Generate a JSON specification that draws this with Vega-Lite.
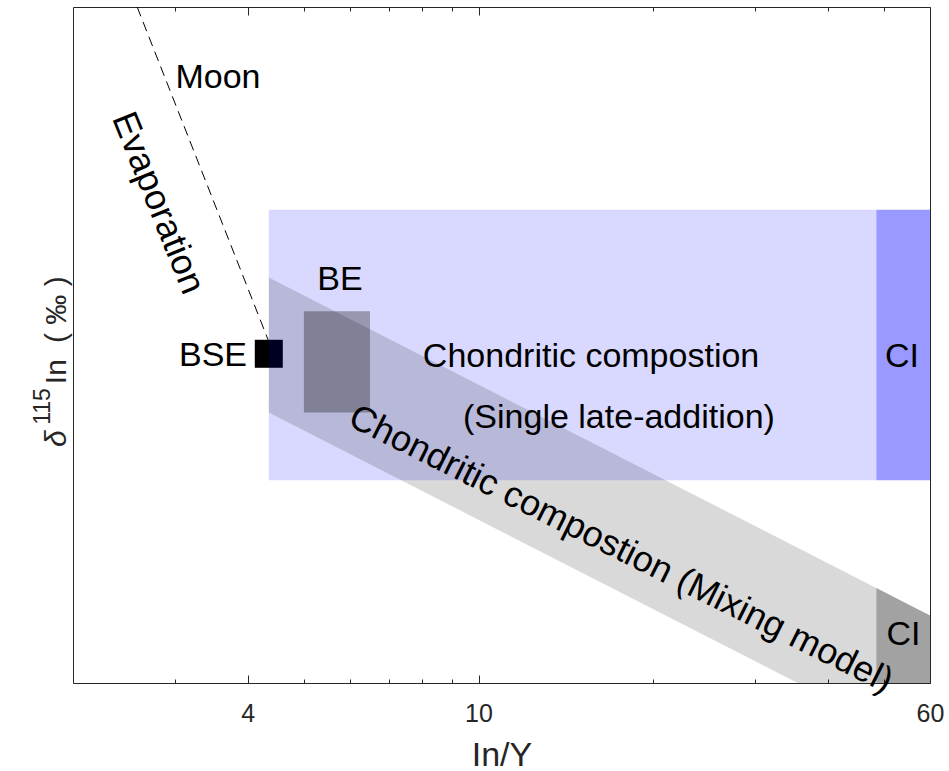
{
  "$schema": "https://vega.github.io/schema/vega-lite/v6.json",
  "width": 857,
  "height": 676,
  "autosize": "none",
  "padding": {"left": 73, "top": 7, "right": 19, "bottom": 88},
  "background": "white",
  "config": {
    "view": {"stroke": "#262626", "strokeWidth": 1},
    "font": "Liberation Sans",
    "axis": {
      "grid": false,
      "domain": false,
      "labelFont": "Liberation Sans",
      "titleFont": "Liberation Sans",
      "labelColor": "#262626",
      "titleColor": "#262626",
      "tickColor": "#262626",
      "titleFontWeight": "normal"
    }
  },
  "datasets": {
    "bse": [{"x": 4.35, "y": 48.7}],
    "evaporation": [{"x": 2.58, "y": 100}, {"x": 4.42, "y": 49}],
    "single": [{"x": 4.35, "x2": 48.5, "y": 30, "y2": 70}],
    "ciSingle": [{"x": 48.5, "x2": 60, "y": 30, "y2": 70}],
    "mixing": [{"x": 4.35, "top": 60, "bottom": 40}, {"x": 60, "top": 10, "bottom": -10}],
    "ciMixing": [{"x": 48.5, "top": 14.05, "bottom": 0}, {"x": 60, "top": 10, "bottom": 0}],
    "be": [{"x": 5, "x2": 6.5, "y": 40, "y2": 55}],
    "labels": [
      {"label": "Moon", "x": 3.556, "y": 89.5},
      {"label": "BE", "x": 5.77, "y": 59.6},
      {"label": "Chondritic compostion", "x": 15.63, "y": 48.2},
      {"label": "(Single late-addition)", "x": 17.46, "y": 39.2},
      {"label": "CI", "x": 53.7, "y": 48.2},
      {"label": "CI", "x": 54.0, "y": 7.1}
    ],
    "bseLabel": [{"label": "BSE", "x": 3.99, "y": 48.4}],
    "evapLabel": [{"label": "Evaporation", "x": 2.803, "y": 71.0}],
    "mixLabel": [{"label": "Chondritic compostion (Mixing model)", "x": 17.6, "y": 19.8}],
    "yTitleSymbol": [{"label": "δ", "x": 1.945, "y": 34.9}],
    "yTitleMass": [{"label": "115", "x": 1.826, "y": 38.2}],
    "yTitleRest": [{"label": "In", "x": 1.945, "y": 44.2}, {"label": "( ‰ )", "x": 1.945, "y": 50.3}]
  },
  "resolve": {"axis": {"x": "independent"}},
  "layer": [
    {
      "data": {"name": "bse"},
      "mark": {"type": "point", "shape": "square", "filled": true, "color": "black", "opacity": 1, "size": 784},
      "encoding": {
        "x": {
          "field": "x", "type": "quantitative",
          "scale": {"type": "log", "domain": [2, 60], "nice": false},
          "title": "In/Y",
          "axis": {
            "orient": "bottom",
            "values": [3, 4, 5, 6, 7, 8, 9, 10, 20, 30, 40, 50, 60],
            "labelExpr": "datum.value == 4 || datum.value == 10 || datum.value == 60 ? format(datum.value, 'd') : ''",
            "labelOverlap": false,
            "labelFlush": false,
            "labelBound": false,
            "labelFontSize": 25,
            "labelPadding": 26,
            "tickSize": {"condition": {"test": "datum.value == 4 || datum.value == 10 || datum.value == 60", "value": -8}, "value": -4},
            "titleFontSize": 34,
            "titleBaseline": "alphabetic",
            "titleY": 82
          }
        },
        "y": {
          "field": "y", "type": "quantitative",
          "scale": {"domain": [0, 100], "nice": false},
          "axis": null
        }
      }
    },
    {
      "data": {"name": "evaporation"},
      "mark": {"type": "line", "color": "black", "strokeWidth": 1, "strokeDash": [10, 6], "clip": true},
      "encoding": {
        "x": {
          "field": "x", "type": "quantitative",
          "scale": {"type": "log", "domain": [2, 60], "nice": false},
          "axis": {
            "orient": "top",
            "values": [3, 4, 5, 6, 7, 8, 9, 10, 20, 30, 40, 50, 60],
            "labels": false,
            "title": null,
            "tickSize": {"condition": {"test": "datum.value == 4 || datum.value == 10", "value": -8}, "value": -4}
          }
        },
        "y": {"field": "y", "type": "quantitative", "axis": null}
      }
    },
    {
      "data": {"name": "single"},
      "mark": {"type": "rect", "color": "#0000ff", "opacity": 0.15},
      "encoding": {
        "x": {"field": "x", "type": "quantitative", "axis": null},
        "x2": {"field": "x2"},
        "y": {"field": "y", "type": "quantitative", "axis": null},
        "y2": {"field": "y2"}
      }
    },
    {
      "data": {"name": "ciSingle"},
      "mark": {"type": "rect", "color": "#0000ff", "opacity": 0.4},
      "encoding": {
        "x": {"field": "x", "type": "quantitative", "axis": null},
        "x2": {"field": "x2"},
        "y": {"field": "y", "type": "quantitative", "axis": null},
        "y2": {"field": "y2"}
      }
    },
    {
      "data": {"name": "mixing"},
      "mark": {"type": "area", "color": "black", "opacity": 0.15, "clip": true},
      "encoding": {
        "x": {"field": "x", "type": "quantitative", "axis": null},
        "y": {"field": "top", "type": "quantitative", "axis": null},
        "y2": {"field": "bottom"}
      }
    },
    {
      "data": {"name": "ciMixing"},
      "mark": {"type": "area", "color": "black", "opacity": 0.25, "clip": true},
      "encoding": {
        "x": {"field": "x", "type": "quantitative", "axis": null},
        "y": {"field": "top", "type": "quantitative", "axis": null},
        "y2": {"field": "bottom"}
      }
    },
    {
      "data": {"name": "be"},
      "mark": {"type": "rect", "color": "black", "opacity": 0.3},
      "encoding": {
        "x": {"field": "x", "type": "quantitative", "axis": null},
        "x2": {"field": "x2"},
        "y": {"field": "y", "type": "quantitative", "axis": null},
        "y2": {"field": "y2"}
      }
    },
    {
      "data": {"name": "labels"},
      "mark": {"type": "text", "fontSize": 34, "color": "black", "align": "center", "baseline": "middle"},
      "encoding": {
        "x": {"field": "x", "type": "quantitative", "axis": null},
        "y": {"field": "y", "type": "quantitative", "axis": null},
        "text": {"field": "label"}
      }
    },
    {
      "data": {"name": "bseLabel"},
      "mark": {"type": "text", "fontSize": 34, "color": "black", "align": "right", "baseline": "middle"},
      "encoding": {
        "x": {"field": "x", "type": "quantitative", "axis": null},
        "y": {"field": "y", "type": "quantitative", "axis": null},
        "text": {"field": "label"}
      }
    },
    {
      "data": {"name": "evapLabel"},
      "mark": {"type": "text", "fontSize": 36, "color": "black", "align": "center", "baseline": "middle", "angle": 68},
      "encoding": {
        "x": {"field": "x", "type": "quantitative", "axis": null},
        "y": {"field": "y", "type": "quantitative", "axis": null},
        "text": {"field": "label"}
      }
    },
    {
      "data": {"name": "mixLabel"},
      "mark": {"type": "text", "fontSize": 36, "color": "black", "align": "center", "baseline": "middle", "angle": 26.5},
      "encoding": {
        "x": {"field": "x", "type": "quantitative", "axis": null},
        "y": {"field": "y", "type": "quantitative", "axis": null},
        "text": {"field": "label"}
      }
    },
    {
      "data": {"name": "yTitleSymbol"},
      "mark": {"type": "text", "fontSize": 30, "fontStyle": "italic", "color": "#262626", "align": "left", "baseline": "alphabetic", "angle": 270},
      "encoding": {
        "x": {"field": "x", "type": "quantitative", "axis": null},
        "y": {"field": "y", "type": "quantitative", "axis": null},
        "text": {"field": "label"}
      }
    },
    {
      "data": {"name": "yTitleMass"},
      "mark": {"type": "text", "fontSize": 23, "color": "#262626", "align": "left", "baseline": "alphabetic", "angle": 270},
      "encoding": {
        "x": {"field": "x", "type": "quantitative", "axis": null},
        "y": {"field": "y", "type": "quantitative", "axis": null},
        "text": {"field": "label"}
      }
    },
    {
      "data": {"name": "yTitleRest"},
      "mark": {"type": "text", "fontSize": 30, "color": "#262626", "align": "left", "baseline": "alphabetic", "angle": 270},
      "encoding": {
        "x": {"field": "x", "type": "quantitative", "axis": null},
        "y": {"field": "y", "type": "quantitative", "axis": null},
        "text": {"field": "label"}
      }
    }
  ]
}
